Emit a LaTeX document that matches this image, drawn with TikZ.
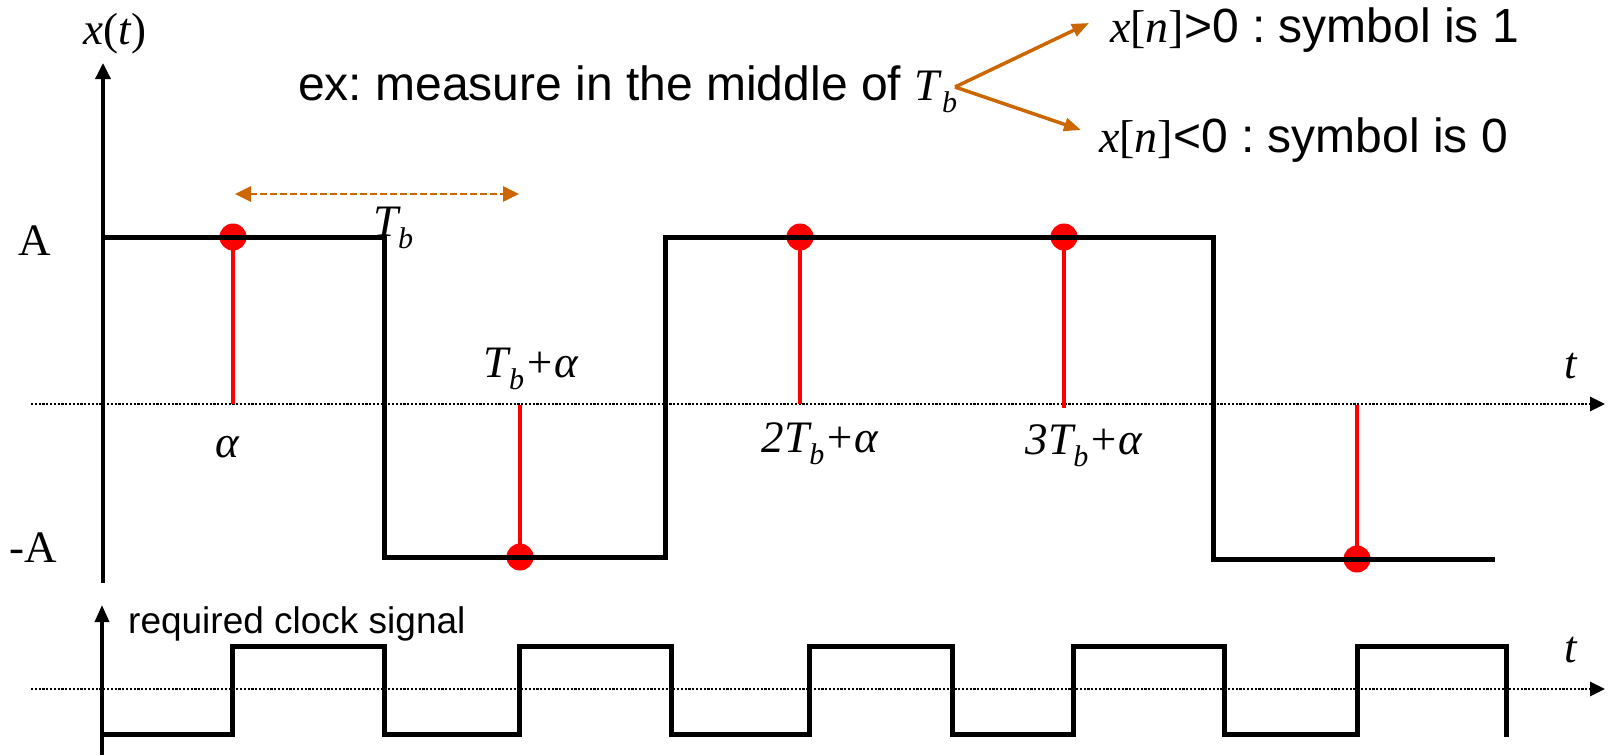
\documentclass[tikz,border=0pt]{standalone}
\usepackage{fontspec}
\setmainfont{Liberation Serif}
\newfontfamily\sansf{Liberation Sans}
\usetikzlibrary{arrows.meta}
\definecolor{orng}{RGB}{204,102,0}
\definecolor{rd}{RGB}{255,0,0}
\frenchspacing
\newcommand\Tsub{\textit{T}\raisebox{-12pt}{\fontsize{30}{30}\selectfont\textit{b}}}
\begin{document}
\begin{tikzpicture}[x=1pt,y=-1pt,
  lbl/.style={font=\fontsize{45}{50}\selectfont\itshape, inner sep=0pt, anchor=base},
  lblup/.style={font=\fontsize{45}{50}\selectfont, inner sep=0pt, anchor=base},
  sig/.style={line width=5pt, black, line join=miter},
  stem/.style={line width=4pt, rd},
  dot/.style={circle, fill=rd, minimum size=27pt, inner sep=0pt},
  axis/.style={line width=3.5pt, -{Triangle[length=16pt,width=15pt]}},
  dotaxis/.style={line width=2.8pt, dash pattern=on 2.2pt off 1.6pt, -{Triangle[length=15pt,width=14pt]}},
  oarrow/.style={line width=3.5pt, orng, -{Triangle[length=17pt,width=13pt]}},
  odash/.style={line width=2.8pt, orng, dash pattern=on 7pt off 3pt, {Triangle[length=16pt,width=15pt]}-{Triangle[length=16pt,width=15pt]}}
]
\useasboundingbox (0,0) rectangle (1609,755);

% ---------- upper plot ----------
\coordinate (yb) at (103,583);
\coordinate (yt) at (103,63);
\coordinate (xa) at (31,404);
\coordinate (xb) at (1605,404);
\draw[dotaxis] (xa) -- (xb);
\draw[axis] (yb) -- (yt);

% sample dots and stems
\node[dot] (d1) at (233,237) {};
\node[dot] (d2) at (520,557) {};
\node[dot] (d3) at (800,237) {};
\node[dot] (d4) at (1064,237) {};
\node[dot] (d5) at (1357,559) {};
\coordinate (s1) at (233,404);
\coordinate (s2) at (520,405);
\coordinate (s3) at (800,404);
\coordinate (s4) at (1064,408);
\coordinate (s5) at (1357,405);
\draw[stem] (d1.center) -- (s1);
\draw[stem] (d2.center) -- (s2);
\draw[stem] (d3.center) -- (s3);
\draw[stem] (d4.center) -- (s4);
\draw[stem] (d5.center) -- (s5);

% signal
\draw[sig] (103,237) -- (384,237) -- (384,557) -- (665,557) -- (665,237)
  -- (1213,237) -- (1213,559) -- (1495,559);

% labels
\node[lbl] (xt) at (115,44) {x\upshape(\itshape t\upshape)};
\node[lblup] (lA) at (35,255) {A};
\node[lblup] (lmA) at (33,562) {-A};
\node[lbl] (lt1) at (1571,378) {t};
\node[lbl] (la) at (227,457) {α};
\node[lbl] (l2) at (531,377) {\Tsub+α};
\node[lbl] (l3) at (820,452) {2\Tsub+α};
\node[lbl] (l4) at (1084,454) {3\Tsub+α};

% Tb interval
\coordinate (da1) at (235,194);
\coordinate (da2) at (519,194);
\draw[odash] (da1) -- (da2);
\node[lbl, anchor=base west] (ltb) at (373,236) {\Tsub};

% measure text and fork
\node[inner sep=0pt, anchor=base west] (ex) at (298,100)
  {\sansf\fontsize{48}{50}\selectfont ex: measure in the middle of {\rmfamily\fontsize{45}{50}\selectfont\Tsub}};
\coordinate (fork) at (955,87);
\coordinate (up) at (1089,23);
\coordinate (dn) at (1081,130);
\draw[oarrow] (fork) -- (up);
\draw[oarrow] (fork) -- (dn);
\node[inner sep=0pt, anchor=base west] (r1) at (1110,42)
  {\fontsize{46}{50}\selectfont\textit{x}[\textit{n}]\sansf\fontsize{48}{50}\selectfont >0 : symbol is 1};
\node[inner sep=0pt, anchor=base west] (r0) at (1099,152)
  {\fontsize{46}{50}\selectfont\textit{x}[\textit{n}]\sansf\fontsize{48}{50}\selectfont <0 : symbol is 0};

% ---------- clock plot ----------
\coordinate (cyb) at (102,755);
\coordinate (cyt) at (102,605);
\coordinate (cxa) at (31,689);
\coordinate (cxb) at (1605,689);
\draw[dotaxis] (cxa) -- (cxb);
\draw[line width=3.5pt, -{Triangle[length=17pt,width=14pt]}] (cyb) -- (cyt);
\node[inner sep=0pt, anchor=base west, font=\sansf\fontsize{37}{40}\selectfont] (clk) at (128,633) {required clock signal};
\node[lbl] (lt2) at (1571,662) {t};
\draw[sig] (102,734) -- (232,734) -- (232,646) -- (384,646) -- (384,734) -- (519,734)
  -- (519,646) -- (671,646) -- (671,734) -- (809,734) -- (809,646) -- (952,646)
  -- (952,734) -- (1073,734) -- (1073,646) -- (1224,646) -- (1224,734) -- (1357,734)
  -- (1357,646) -- (1506,646) -- (1506,737);
\end{tikzpicture}
\end{document}
